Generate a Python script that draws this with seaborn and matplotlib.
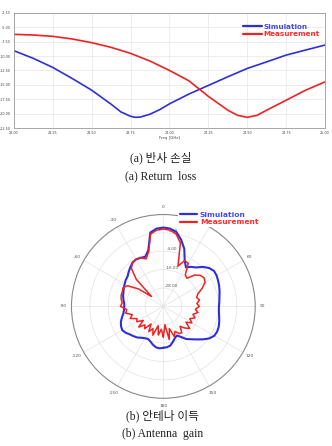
import numpy as np
import pandas as pd
import matplotlib
matplotlib.use('Agg')
import matplotlib.pyplot as plt
import seaborn as sns

# ---- data: return loss (dB) vs frequency (GHz) ----
freq_sim = [23.0, 23.125, 23.25, 23.375, 23.5, 23.625, 23.6875, 23.75, 23.78,
            23.8125, 23.875, 23.9375, 24.0, 24.125, 24.25, 24.375, 24.5,
            24.625, 24.75, 24.875, 25.0]
s11_sim = [-9.07, -10.4, -11.98, -13.9, -15.93, -18.37, -19.7, -20.47, -20.64,
           -20.6, -20.1, -19.3, -18.3, -16.6, -15.1, -13.6, -12.15,
           -11.0, -9.83, -8.95, -8.08]
freq_meas = [23.0, 23.125, 23.25, 23.375, 23.5, 23.625, 23.75, 23.875, 24.0,
             24.125, 24.25, 24.375, 24.4375, 24.5, 24.5625, 24.625, 24.75,
             24.875, 25.0]
s11_meas = [-6.22, -6.34, -6.57, -7.03, -7.67, -8.49, -9.53, -10.87, -12.5,
            -14.3, -17.0, -19.4, -20.3, -20.64, -20.3, -19.4, -17.67,
            -15.93, -14.48]

# ---- data: radiation pattern (dB) vs angle (deg) ----
angle = list(range(-180, 185, 5))
gain_sim = [-13, -12.5, -12.8, -14, -15.5, -16.5, -16, -15, -13.5, -12.5,
            -11.5, -10, -9, -9.5, -10.5, -12, -13.5, -14.2, -14.5, -14.3,
            -13.5, -12.8, -12.3, -11.5, -10.8, -10, -9.5, -8, -6.5, -5,
            -4.5, -5, -5.5, -2, 9, 11, 11.5, 11, 9.3, 5,
            0, -7, -10.5, -8.5, -6.8, -3.5, -1, 0.4, 0.2, -0.5,
            -1.2, -2, -2.8, -3.3, -3.7, -3.6, -3, -2.2, -1.5, -1.2,
            -1.6, -3.5, -6.5, -9.5, -12, -14, -17, -19, -18, -16,
            -14, -13.2, -13]
gain_meas = [-20, -25, -21, -27, -20, -24, -21, -26, -21, -23,
             -19, -24, -20, -21, -17, -19, -15, -16, -12, -13,
             -12, -11.5, -11.5, -11, -13, -20, -30, -15, -7.5, -5,
             -4.5, -5, -7, -3, 8, 10, 10.5, 10, 8, 3,
             -12, -7, -7.5, -15, -16, -11, -8.5, -7.5, -8.5, -12,
             -16, -17.5, -16, -18, -16.5, -19, -17, -20, -18, -21,
             -18.5, -22, -17.5, -20, -23, -19, -19.5, -22, -19, -25,
             -18, -28, -20]

c_sim = '#2f2fd8'
c_meas = '#ee2222'

sns.set_theme(style='whitegrid')
plt.rcParams['font.family'] = ['DejaVu Sans']
cap_font = ['Liberation Serif', 'Noto Sans CJK KR']

fig = plt.figure(figsize=(3.32, 4.46), dpi=100)

# ====== (a) return loss ======
ax = fig.add_axes([0.042, 0.713, 0.937, 0.258])
df_rl = pd.DataFrame({'freq': freq_sim + freq_meas,
                      'dB': s11_sim + s11_meas,
                      'kind': ['Simulation'] * len(freq_sim) + ['Measurement'] * len(freq_meas)})
sns.lineplot(data=df_rl, x='freq', y='dB', hue='kind',
             palette={'Simulation': c_sim, 'Measurement': c_meas},
             lw=1.2, ax=ax, estimator=None)
xt = np.arange(23.0, 25.01, 0.25)
yt = np.arange(-22.5, -2.49, 2.5)
ax.set_xlim(23.0, 25.0)
ax.set_ylim(-22.5, -2.5)
ax.set_xticks(xt)
ax.set_yticks(yt)
ax.set_xticklabels([f'{v:.2f}' for v in xt])
ax.set_yticklabels([f'{v:.2f}' for v in yt])
ax.tick_params(labelsize=2.4, pad=0.8, colors='#444444', length=1.5)
ax.set_xlabel('Freq [GHz]', fontsize=2.8, labelpad=0.5, color='#444444')
ax.set_ylabel('')
ax.grid(color='#e6e6e6', lw=0.5)
for s in ax.spines.values():
    s.set_color('#999999')
    s.set_linewidth(0.6)
leg = ax.legend(loc='upper right', bbox_to_anchor=(1.0, 0.95), frameon=False,
                handlelength=2.6, labelspacing=0.2, borderaxespad=0.3,
                handletextpad=0.3, prop={'weight': 'bold', 'size': 5.2},
                labelcolor=['#4646ff', '#ff2a2a'])
for line in leg.get_lines():
    line.set_linewidth(1.6)

fig.text(0.485, 0.646, '(a) 반사 손실', ha='center', va='center', fontsize=8.4,
         family=cap_font, color='#222222')
fig.text(0.485, 0.604, '(a) Return  loss', ha='center', va='center', fontsize=8.4,
         family=cap_font, color='#222222')

# ====== (b) antenna gain ======
axp = fig.add_axes([0.215, 0.107, 0.554, 0.412], projection='polar')
theta = np.deg2rad(angle)
sns.lineplot(x=theta, y=gain_sim, ax=axp, sort=False, estimator=None,
             color=c_sim, lw=1.5, label='Simulation')
sns.lineplot(x=theta, y=gain_meas, ax=axp, sort=False, estimator=None,
             color=c_meas, lw=1.1, label='Measurement')
axp.set_theta_zero_location('N')
axp.set_theta_direction(-1)
axp.set_ylim(-40, 20)
axp.set_rticks([-28, -16, -4, 8])
axp.set_yticklabels(['-28.00', '-16.00', '-4.00', '8.00'])
axp.set_rlabel_position(4)
axp.tick_params(axis='y', labelsize=3, colors='#555555')
# the 30 deg label sits under the legend in the original
axp.set_thetagrids(range(0, 360, 30),
                   ['0', '', '60', '90', '120', '150', '180',
                    '-150', '-120', '-90', '-60', '-30'])
axp.set_xticks(np.deg2rad(np.arange(0, 360, 5)), minor=True)
axp.tick_params(axis='x', which='major', labelsize=3.2, colors='#555555', pad=-1.5,
                direction='in', length=2.5, width=0.5)
axp.tick_params(axis='x', which='minor', direction='in', length=1.3, width=0.4,
                color='#777777')
axp.grid(color='#e2e2e2', lw=0.5)
axp.spines['polar'].set_color('#888888')
axp.spines['polar'].set_linewidth(0.8)
axp.set_xlabel('')
axp.set_ylabel('')
legp = axp.legend(loc='upper left', bbox_to_anchor=(0.56, 1.045), frameon=True,
                  facecolor='white', edgecolor='none', framealpha=1,
                  handlelength=2.3, labelspacing=0.15, handletextpad=0.4,
                  borderpad=0.2, prop={'weight': 'bold', 'size': 5.4},
                  labelcolor=['#4646ff', '#ff2a2a'])
for line in legp.get_lines():
    line.set_linewidth(1.6)

fig.text(0.49, 0.067, '(b) 안테나 이득', ha='center', va='center', fontsize=8.4,
         family=cap_font, color='#222222')
fig.text(0.49, 0.027, '(b) Antenna  gain', ha='center', va='center', fontsize=8.4,
         family=cap_font, color='#222222')

fig.savefig('out.png', dpi=100)
